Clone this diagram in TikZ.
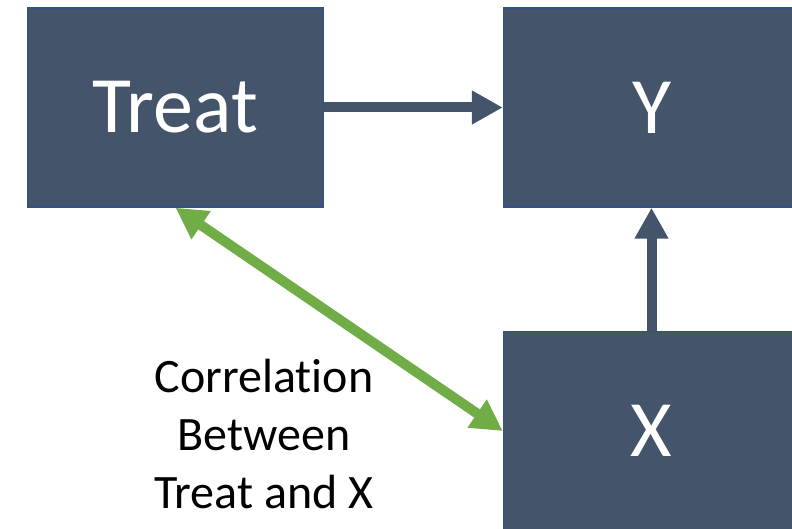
\documentclass[tikz,border=0pt]{standalone}
\usepackage{fontspec}
\setmainfont[Ligatures=NoCommon]{Carlito}
\usetikzlibrary{arrows.meta}
\definecolor{boxfill}{HTML}{44546A}
\definecolor{boxedge}{HTML}{2F528F}
\definecolor{corrgreen}{HTML}{70AD47}
\begin{document}
\begin{tikzpicture}[x=1pt,y=-1pt,
  varbox/.style={rectangle, fill=boxfill, draw=boxedge, line width=1.5pt,
    minimum width=296pt, minimum height=199pt, inner sep=0pt,
    text=white, font=\fontsize{80}{96}\selectfont},
  causal/.style={draw=boxfill, line width=10pt,
    -{Triangle[length=31pt,width=32pt]}},
  corr/.style={draw=corrgreen, line width=10pt,
    {Triangle[length=31pt,width=32pt]}-{Triangle[length=31pt,width=32pt]}}]
  \useasboundingbox (0,0) rectangle (792,529);
  \node[varbox] (treat) at (175.5,107.5) {\raisebox{-2pt}{Treat}};
  \node[varbox] (y) at (651.5,107.5) {\raisebox{-2pt}{Y}};
  \node[varbox] (x) at (651.5,431) {\raisebox{-1pt}{X}};
  \draw[causal] (treat.east) -- (y.west);
  \draw[causal] (x.north) -- (y.south);
  \draw[corr] (treat.south) -- (x.west);
  % the empty group keeps "t" and "i" as separate glyphs
  \node[align=center, inner sep=0pt, anchor=north,
    font=\fontsize{48}{58}\selectfont] (label) at (264,359)
    {Correlat{}ion\\Between\\Treat and X};
\end{tikzpicture}
\end{document}
